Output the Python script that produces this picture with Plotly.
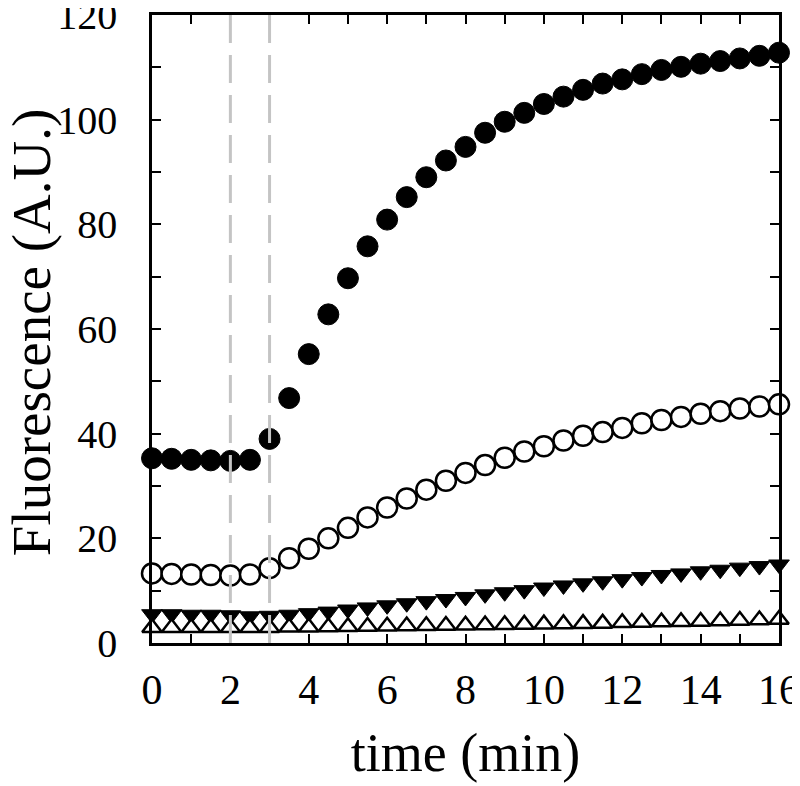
import plotly.graph_objects as go

time_min = [0, 0.5, 1, 1.5, 2, 2.5, 3, 3.5, 4, 4.5, 5, 5.5, 6, 6.5, 7, 7.5, 8,
            8.5, 9, 9.5, 10, 10.5, 11, 11.5, 12, 12.5, 13, 13.5, 14, 14.5, 15, 15.5, 16]

filled_circles = [35.3, 35.2, 35.0, 34.9, 34.8, 35.0, 39.0, 46.8, 55.2, 62.8, 69.7, 75.8,
                  80.9, 85.2, 89.0, 92.2, 94.8, 97.5, 99.6, 101.3, 103.0, 104.4, 105.7,
                  106.9, 107.7, 108.7, 109.5, 110.1, 110.7, 111.2, 111.7, 112.2, 112.8]

open_circles = [13.3, 13.2, 13.1, 13.0, 12.9, 13.1, 14.3, 16.2, 18.0, 20.0, 22.0, 24.0,
                25.9, 27.6, 29.3, 31.0, 32.5, 34.0, 35.4, 36.6, 37.6, 38.7, 39.6,
                40.3, 41.1, 42.0, 42.6, 43.2, 43.8, 44.3, 44.8, 45.2, 45.6]

filled_down_triangles = [5.5, 5.5, 5.4, 5.4, 5.3, 5.1, 5.2, 5.4, 5.7, 6.0, 6.4, 6.8,
                         7.2, 7.6, 8.0, 8.4, 8.8, 9.3, 9.7, 10.1, 10.6, 11.0, 11.4,
                         11.8, 12.2, 12.6, 13.0, 13.3, 13.7, 14.0, 14.4, 14.7, 15.0]

open_up_triangles = [2.9, 2.9, 2.9, 2.9, 2.9, 2.9, 2.9, 3.0, 3.0, 3.05, 3.1, 3.15,
                     3.2, 3.25, 3.3, 3.35, 3.4, 3.45, 3.5, 3.55, 3.6, 3.65, 3.7,
                     3.75, 3.85, 3.9, 4.0, 4.05, 4.1, 4.2, 4.3, 4.4, 4.5]

event_times = [2, 3]

x_tick_vals = list(range(0, 17))
x_tick_text = [str(v) if v % 2 == 0 else "" for v in x_tick_vals]
y_tick_vals = list(range(0, 121, 10))
y_tick_text = [str(v) if v % 20 == 0 else "" for v in y_tick_vals]

y_title = "Fluorescence (A.U.)"
x_title = "time (min)"

FONT = "Liberation Serif, Times New Roman, serif"

fig = go.Figure()

fig.add_trace(go.Scatter(
    x=time_min, y=filled_circles, mode="markers", cliponaxis=False,
    marker=dict(symbol="circle", size=21, color="black",
                line=dict(color="black", width=1))))
fig.add_trace(go.Scatter(
    x=time_min, y=open_circles, mode="markers", cliponaxis=False,
    marker=dict(symbol="circle", size=20, color="white",
                line=dict(color="black", width=2.5))))
fig.add_trace(go.Scatter(
    x=time_min, y=filled_down_triangles, mode="markers", cliponaxis=False,
    marker=dict(symbol="triangle-down", size=18, color="black",
                line=dict(color="black", width=1))))
fig.add_trace(go.Scatter(
    x=time_min, y=open_up_triangles, mode="markers", cliponaxis=False,
    marker=dict(symbol="triangle-up", size=17, color="white",
                line=dict(color="black", width=2.5))))

for t in event_times:
    fig.add_shape(type="line", xref="x", yref="paper", x0=t, x1=t, y0=0, y1=1,
                  line=dict(color="#c4c4c4", width=3, dash="28px,12px"),
                  layer="above")

# page body adds an 8px offset; the figure is sized to compensate
fig.update_layout(
    width=792, height=778,
    margin=dict(l=144, r=21, t=7, b=143, autoexpand=False),
    paper_bgcolor="white", plot_bgcolor="white",
    showlegend=False,
    font=dict(family=FONT, color="black"),
)

fig.add_annotation(
    text=y_title, textangle=-90, xref="paper", yref="paper",
    x=-0.193, y=0.495, xanchor="center", yanchor="middle", showarrow=False,
    font=dict(family=FONT, size=55, color="black"))

fig.update_xaxes(
    range=[0, 16], tickvals=x_tick_vals, ticktext=x_tick_text,
    ticks="inside", ticklen=9, tickwidth=1.5, tickcolor="black",
    showline=True, linewidth=2.5, linecolor="black", mirror="ticks",
    showgrid=False, zeroline=False, automargin=False,
    tickfont=dict(family=FONT, size=42), ticklabelstandoff=8,
    ticklabeloverflow="allow",
    title=dict(text=x_title, font=dict(family=FONT, size=54), standoff=22),
)
fig.update_yaxes(
    range=[0, 120], tickvals=y_tick_vals, ticktext=y_tick_text,
    ticks="inside", ticklen=9, tickwidth=1.5, tickcolor="black",
    showline=True, linewidth=2.5, linecolor="black", mirror="ticks",
    showgrid=False, zeroline=False, automargin=False,
    tickfont=dict(family=FONT, size=40), ticklabelstandoff=24,
    ticklabeloverflow="allow",
)

fig.write_html("out.html")
